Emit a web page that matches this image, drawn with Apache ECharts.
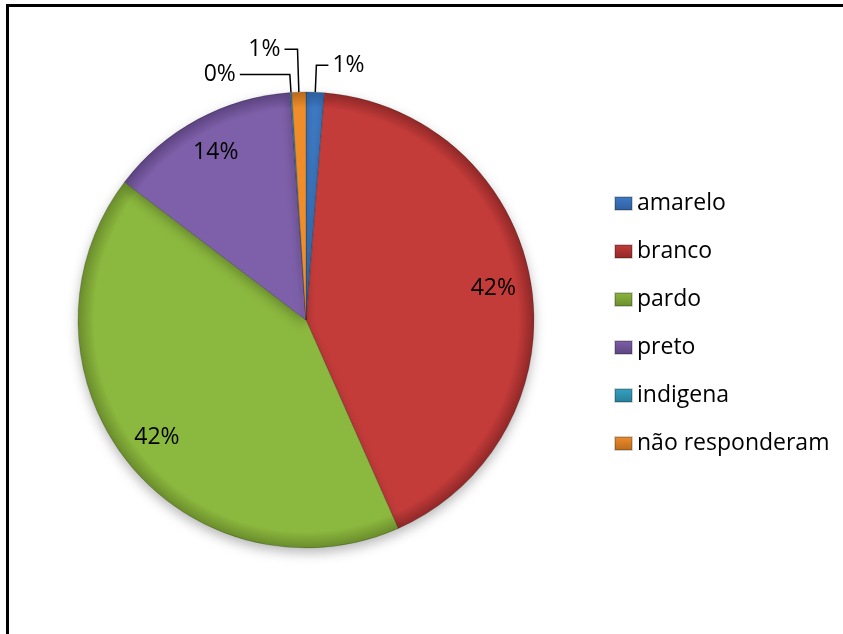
<!DOCTYPE html>
<html>
<head>
<meta charset="utf-8">
<script src="https://cdn.jsdelivr.net/npm/echarts@6/dist/echarts.min.js"></script>
<style>
  html, body { margin: 0; padding: 0; background: #ffffff; }
  #frame {
    position: absolute; left: 6px; top: 4px;
    width: 900px; height: 700px;
    border-top: 3px solid #000; border-left: 3px solid #000;
  }
  #chart { position: absolute; left: 0; top: 0; width: 843px; height: 634px; }
</style>
</head>
<body>
<div id="frame"></div>
<div id="chart"></div>
<script>
// Respondents by self-declared colour / race (percent of total)
const categories = ['amarelo', 'branco', 'pardo', 'preto', 'indigena', 'não responderam'];
const shares = [1.3, 42.2, 42.1, 13.6, 0.1, 1.0];

// Slice colours, in category order
const sliceColors = ['#3F7CC8', '#C43C3A', '#8BB83E', '#7E60AA', '#36A4C4', '#F08E2C'];
const edgeColors  = ['#2E5E9C', '#8F2827', '#6A8C2C', '#5C4380', '#267D97', '#B86A1D'];

// Leader-line lengths for the slices labelled outside the pie
const outsideLines = {
  'amarelo':         { length: 27, length2: 12 },
  'indigena':        { length: 18, length2: 50 },
  'não responderam': { length: 43, length2: 13 }
};

const CX = 306, CY = 320, R = 228;
const labelFont = { fontFamily: 'Open Sans', fontSize: 23, color: '#000' };

function fillFor(i) {
  return {
    type: 'radial', x: CX, y: CY, r: R, global: true,
    colorStops: [
      { offset: 0, color: sliceColors[i] },
      { offset: 0.93, color: sliceColors[i] },
      { offset: 1, color: edgeColors[i] }
    ]
  };
}

function iconFor(i) {
  return {
    type: 'linear', x: 0, y: 0, x2: 0, y2: 1,
    colorStops: [
      { offset: 0, color: sliceColors[i] },
      { offset: 1, color: edgeColors[i] }
    ]
  };
}

const pctText = p => Math.round(p.percent) + '%';

// Main pie: slices and outside labels for the thin slices
const sliceData = categories.map((name, i) => {
  const line = outsideLines[name];
  return {
    name: name,
    value: shares[i],
    itemStyle: { color: fillFor(i) },
    label: { show: !!line },
    labelLine: line ? { show: true, length: line.length, length2: line.length2 } : { show: false }
  };
});

// Transparent ring whose middle carries the labels of the large slices
const ringData = categories.map((name, i) => ({
  name: name,
  value: shares[i],
  label: { show: !outsideLines[name] }
}));

const chart = echarts.init(document.getElementById('chart'), null, { renderer: 'canvas' });
chart.setOption({
  animation: false,
  color: sliceColors,
  legend: {
    orient: 'vertical',
    left: 609,
    top: 187,
    itemWidth: 17,
    itemHeight: 13,
    itemGap: 25,
    icon: 'rect',
    data: categories.map((name, i) => ({ name: name, itemStyle: { color: iconFor(i) } })),
    textStyle: { fontFamily: 'Open Sans', fontSize: 23, color: '#000', lineHeight: 23 }
  },
  series: [
    {
      type: 'pie',
      center: [CX, CY],
      radius: [0, R],
      startAngle: 90,
      clockwise: true,
      avoidLabelOverlap: false,
      data: sliceData,
      itemStyle: {
        borderColor: 'rgba(0,0,0,0.18)',
        borderWidth: 1,
        shadowBlur: 12,
        shadowOffsetY: 5,
        shadowColor: 'rgba(0,0,0,0.28)'
      },
      label: Object.assign({ position: 'outside', formatter: pctText, distanceToLabelLine: 4 }, labelFont),
      labelLine: { lineStyle: { color: '#000', width: 1.5 } },
      emphasis: { disabled: true }
    },
    {
      type: 'pie',
      center: [CX, CY],
      radius: [146, R],
      startAngle: 90,
      clockwise: true,
      silent: true,
      avoidLabelOverlap: false,
      data: ringData,
      itemStyle: { color: 'rgba(0,0,0,0)', borderWidth: 0 },
      label: Object.assign({ position: 'inside', formatter: pctText }, labelFont),
      labelLine: { show: false },
      emphasis: { disabled: true }
    }
  ]
});
</script>
</body>
</html>
